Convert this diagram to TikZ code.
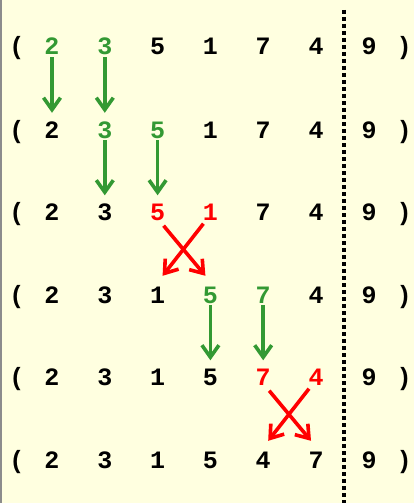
\documentclass[tikz,border=0pt]{standalone}
\usepackage{fontspec}
\setmonofont{Liberation Mono}
\usetikzlibrary{arrows.meta}
\definecolor{paper}{HTML}{FFFFE0}
\definecolor{sortgreen}{HTML}{339933}
\definecolor{edge}{HTML}{8C8C8C}

\begin{document}
\begin{tikzpicture}[x=1pt, y=-1pt,
    digit/.style={inner sep=0pt, text height=16pt, text depth=0pt,
      font=\fontsize{25}{25}\ttfamily\bfseries},
    keep/.style={-{Straight Barb[length=12pt, width=17pt]}, line width=3.6pt,
      sortgreen, shorten <=2pt, shorten >=9pt},
    swap/.style={-{Straight Barb[length=12pt, width=17pt]}, line width=3.6pt, red},
  ]
    \fill[paper] (0,0) rectangle (414,503);
    \fill[edge] (0,0) rectangle (2,503);
    \useasboundingbox (0,0) rectangle (414,503);

    % brackets and the sorted 9 on every row
    \foreach \r/\y in {a/47, b/130, c/212.5, d/295, e/377.5, f/460} {
      \node[digit] (\r0) at (17,\y) {(};
      \node[digit] (\r7) at (369,\y) {9};
      \node[digit] (\r8) at (404,\y) {)};
    }

    % the unsorted part, one row per step
    \foreach \d/\c [count=\i] in {2/sortgreen, 3/sortgreen, 5/black, 1/black, 7/black, 4/black}
      \node[digit, text=\c] (a\i) at (52.8*\i-0.8, 47) {\d};
    \foreach \d/\c [count=\i] in {2/black, 3/sortgreen, 5/sortgreen, 1/black, 7/black, 4/black}
      \node[digit, text=\c] (b\i) at (52.8*\i-0.8, 130) {\d};
    \foreach \d/\c [count=\i] in {2/black, 3/black, 5/red, 1/red, 7/black, 4/black}
      \node[digit, text=\c] (c\i) at (52.8*\i-0.8, 212.5) {\d};
    \foreach \d/\c [count=\i] in {2/black, 3/black, 1/black, 5/sortgreen, 7/sortgreen, 4/black}
      \node[digit, text=\c] (d\i) at (52.8*\i-0.8, 295) {\d};
    \foreach \d/\c [count=\i] in {2/black, 3/black, 1/black, 5/black, 7/red, 4/red}
      \node[digit, text=\c] (e\i) at (52.8*\i-0.8, 377.5) {\d};
    \foreach \d/\c [count=\i] in {2/black, 3/black, 1/black, 5/black, 4/black, 7/black}
      \node[digit, text=\c] (f\i) at (52.8*\i-0.8, 460) {\d};

    % boundary of the sorted part
    \draw[line width=4pt, dash pattern=on 4pt off 3pt] (344,10) -- (344,503);

    \draw[keep] (a1.south) -- (b1.north);
    \draw[keep] (a2.south) -- (b2.north);
    \draw[keep] (b2.south) -- (c2.north);
    \draw[keep] (b3.south) -- (c3.north);
    \draw[keep] (d4.south) -- (e4.north);
    \draw[keep] (d5.south) -- (e5.north);

    \draw[swap] ([xshift=6pt, yshift=-5pt]c3.south) -- ([xshift=-5pt, yshift=11pt]d4.north);
    \draw[swap] ([xshift=-7pt, yshift=-3pt]c4.south) -- ([xshift=5pt, yshift=11pt]d3.north);
    \draw[swap] ([xshift=6pt, yshift=-5pt]e5.south) -- ([xshift=-5pt, yshift=11pt]f6.north);
    \draw[swap] ([xshift=-7pt, yshift=-3pt]e6.south) -- ([xshift=5pt, yshift=11pt]f5.north);
\end{tikzpicture}
\end{document}
